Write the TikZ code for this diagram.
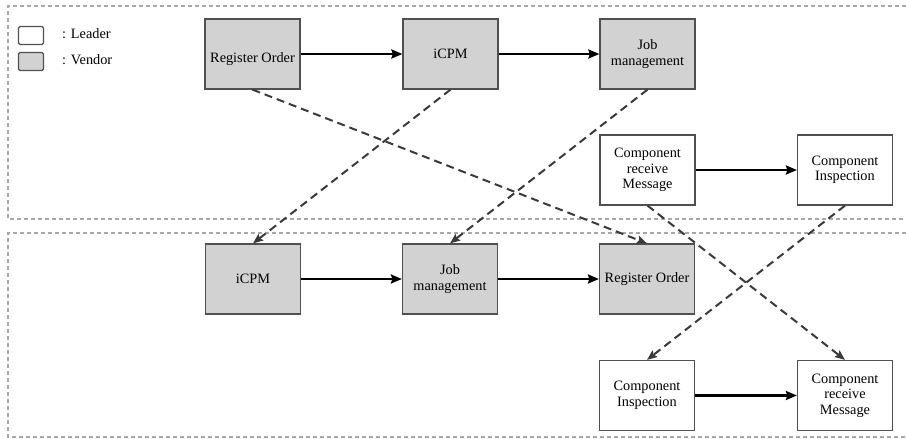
\documentclass[tikz,border=0pt]{standalone}
\usepackage{fontspec}
\setmainfont{Liberation Serif}
\usetikzlibrary{arrows.meta}
\definecolor{boxline}{HTML}{505050}
\definecolor{vendorfill}{HTML}{D2D2D2}
\definecolor{framegray}{HTML}{A8A8A8}
\definecolor{dashgray}{HTML}{3A3A3A}
\tikzset{
  procbox/.style={draw=boxline, line width=1.2pt, rectangle, minimum width=95pt, minimum height=70pt, inner sep=1pt, align=center, font=\fontsize{14.3}{15.5}\selectfont},
  vendor/.style={procbox, fill=vendorfill},
  leader/.style={procbox, fill=white},
  flow/.style={line width=2.8pt, -{Stealth[length=11pt,width=9pt,inset=1.5pt]}},
  xflow/.style={draw=dashgray, line width=2pt, dash pattern=on 8pt off 5pt, -{Stealth[length=10pt,width=8pt,inset=1.5pt]}},
  frame/.style={draw=framegray, line width=1.3pt, dash pattern=on 4pt off 3pt},
  legbox/.style={draw=boxline, line width=1.2pt, rectangle, rounded corners=1.5pt, minimum width=25pt, minimum height=18pt, inner sep=0pt},
  legtext/.style={anchor=west, inner sep=0pt, font=\fontsize{14.3}{15.5}\selectfont}
}
\begin{document}
\begin{tikzpicture}[x=1pt,y=-1pt]
\useasboundingbox (0,0) rectangle (906,439);
% frames
\draw[frame] (906,6) -- (8,6) -- (8,219) -- (906,219);
\draw[frame] (906,233) -- (8,233) -- (8,437) -- (906,437);
% legend
\node[legbox, fill=white] (legL) at (31,35.5) {};
\node[legbox, fill=vendorfill] (legV) at (31,61.5) {};
\node[legtext] (legLt) at (62,34) {: Leader};
\node[legtext] (legVt) at (62,60) {: Vendor};
% top row
\node[vendor] (ro1) at (252.5,54) {\raisebox{-5pt}[10pt][3pt]{Register Order}};
\node[vendor] (icpm1) at (450.5,54) {iCPM};
\node[vendor] (jm1) at (647.5,54) {Job\\management};
\node[leader] (crm1) at (647.5,170) {Component\\receive\\Message};
\node[leader] (ci1) at (845,170) {Component\\Inspection};
% bottom row
\node[vendor] (icpm2) at (253,279) {iCPM};
\node[vendor] (jm2) at (450,279) {Job\\management};
\node[vendor] (ro2) at (647,279) {Register Order};
\node[leader] (ci2) at (647,395.5) {Component\\Inspection};
\node[leader] (crm2) at (845,395.5) {Component\\receive\\Message};
% solid flows
\draw[flow] (ro1) -- (icpm1);
\draw[flow] (icpm1) -- (jm1);
\draw[flow] (crm1) -- (ci1);
\draw[flow] (icpm2) -- (jm2);
\draw[flow] (jm2) -- (ro2);
\draw[flow] (ci2) -- (crm2);
% dashed cross flows
\draw[xflow] (ro1.south) -- (ro2.north);
\draw[xflow] (icpm1.south) -- (icpm2.north);
\draw[xflow] (jm1.south) -- (jm2.north);
\draw[xflow] (crm1.south) -- (crm2.north);
\draw[xflow] (ci1.south) -- (ci2.north);
\end{tikzpicture}
\end{document}
